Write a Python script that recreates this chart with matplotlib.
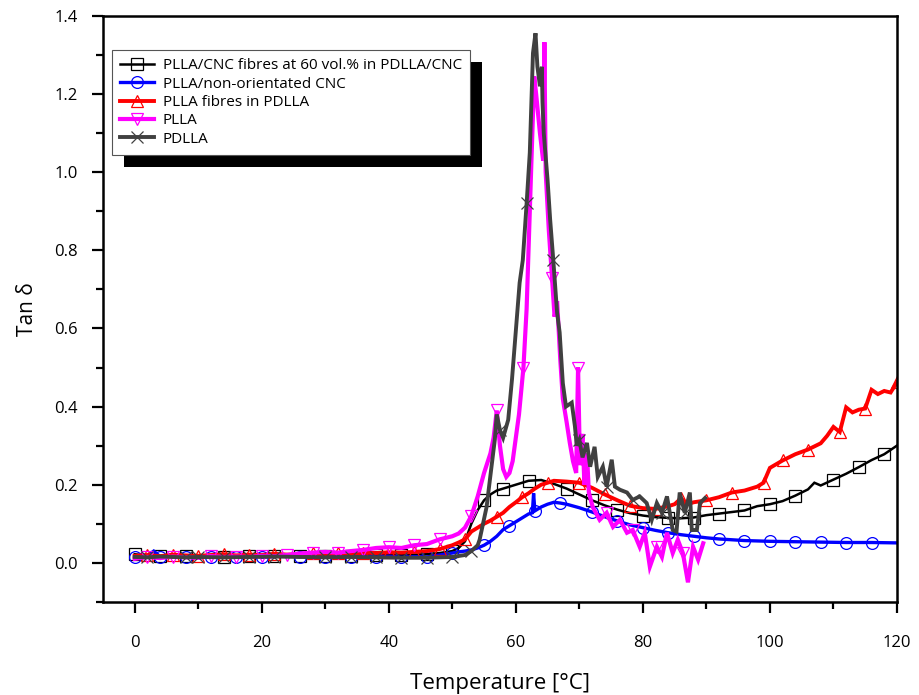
import numpy as np
import matplotlib
matplotlib.use("Agg")
import matplotlib.pyplot as plt
from matplotlib.patches import Rectangle
from matplotlib.ticker import MultipleLocator

plt.rcParams['font.family'] = ['Open Sans', 'DejaVu Sans']

labels = ["PLLA/CNC fibres at 60 vol.% in PDLLA/CNC",
          "PLLA/non-orientated CNC",
          "PLLA fibres in PDLLA",
          "PLLA",
          "PDLLA"]

# --- PLLA/CNC fibres at 60 vol.% in PDLLA/CNC (black, squares)
t_fib = [0, 2, 4, 6, 8, 10, 14, 18, 22, 26, 30, 34, 38, 42, 46, 48, 50, 51, 52, 53, 54, 55,
         56, 57, 58, 60, 62, 64, 66, 68, 70, 72, 74, 76, 78, 80, 82, 84, 86, 88, 90, 92, 94,
         96, 98, 100, 102, 104, 106, 107, 108, 110, 112, 114, 116, 118, 120]
v_fib = [0.022, 0.018, 0.017, 0.019, 0.018, 0.017, 0.016, 0.017, 0.018, 0.017, 0.018, 0.018,
         0.020, 0.020, 0.022, 0.025, 0.030, 0.038, 0.055, 0.100, 0.135, 0.160, 0.175, 0.185,
         0.190, 0.200, 0.210, 0.212, 0.202, 0.190, 0.175, 0.160, 0.147, 0.136, 0.127, 0.121,
         0.117, 0.115, 0.114, 0.116, 0.122, 0.126, 0.130, 0.134, 0.145, 0.150, 0.158, 0.172,
         0.188, 0.205, 0.198, 0.213, 0.228, 0.245, 0.263, 0.278, 0.300]

# --- PLLA/non-orientated CNC (blue, circles)
t_cnc = [0, 1, 2, 3, 4, 6, 8, 10, 12, 14, 16, 18, 20, 22, 24, 26, 28, 30, 32, 34, 36, 38, 40,
         42, 44, 46, 48, 50, 51, 52, 53, 54, 55, 56, 57, 58, 59, 60, 61, 62, 62.6, 62.8, 63,
         64, 65, 66, 67, 68, 70, 72, 74, 76, 78, 80, 82, 84, 86, 88, 90, 92, 94, 96, 98, 100,
         104, 108, 112, 116, 120]
v_cnc = [0.015, 0.020, 0.018, 0.030, 0.016, 0.014, 0.015, 0.013, 0.016, 0.018, 0.015, 0.020,
         0.014, 0.016, 0.018, 0.015, 0.020, 0.014, 0.022, 0.016, 0.018, 0.015, 0.017, 0.014,
         0.016, 0.015, 0.020, 0.025, 0.028, 0.030, 0.033, 0.038, 0.045, 0.055, 0.068, 0.085,
         0.095, 0.105, 0.115, 0.125, 0.128, 0.178, 0.133, 0.143, 0.150, 0.155, 0.153, 0.150,
         0.141, 0.130, 0.118, 0.107, 0.097, 0.090, 0.083, 0.077, 0.072, 0.068, 0.064, 0.061,
         0.059, 0.057, 0.056, 0.055, 0.054, 0.053, 0.052, 0.052, 0.051]

# --- PLLA fibres in PDLLA (red, up triangles)
t_pf = [0, 2, 4, 6, 8, 10, 12, 14, 16, 18, 20, 22, 24, 26, 28, 30, 32, 34, 36, 38, 40, 42, 44,
        46, 48, 50, 51, 52, 53, 54, 55, 56, 57, 58, 59, 60, 61, 62, 63, 64, 65, 66, 68, 70, 72,
        74, 76, 78, 80, 82, 84, 85, 86, 87, 88, 90, 92, 94, 96, 98, 99, 100, 102, 104, 106,
        108, 109, 110, 111, 112, 113, 114, 115, 116, 117, 118, 119, 120]
v_pf = [0.018, 0.020, 0.017, 0.021, 0.019, 0.018, 0.020, 0.022, 0.019, 0.021, 0.020, 0.023,
        0.021, 0.022, 0.024, 0.022, 0.025, 0.023, 0.026, 0.025, 0.027, 0.026, 0.028, 0.030,
        0.035, 0.045, 0.052, 0.060, 0.080, 0.090, 0.100, 0.108, 0.118, 0.128, 0.143, 0.155,
        0.168, 0.178, 0.190, 0.200, 0.205, 0.210, 0.208, 0.205, 0.192, 0.175, 0.160, 0.146,
        0.140, 0.138, 0.145, 0.150, 0.165, 0.150, 0.155, 0.160, 0.168, 0.180, 0.185, 0.195,
        0.205, 0.243, 0.262, 0.278, 0.290, 0.306, 0.325, 0.348, 0.335, 0.398, 0.385, 0.392,
        0.395, 0.443, 0.432, 0.440, 0.436, 0.462]

# --- PLLA (magenta, down triangles)
t_plla = [0, 2, 4, 6, 8, 10, 12, 14, 16, 18, 20, 22, 24, 26, 28, 30, 32, 34, 36, 38, 40, 42,
          44, 46, 48, 50, 51, 52, 53, 54, 55, 56, 56.5, 57, 57.5, 58, 58.5, 59, 59.5, 60.5,
          61.2, 61.7, 62.2, 62.6, 62.9, 63.2, 63.8, 64.3, 64.5, 64.7, 65.2, 65.7, 66.1, 66.5,
          67, 67.4, 68, 68.5, 69, 69.5, 69.8, 70.1, 70.5, 70.8, 71.2, 71.5, 72.1, 73.2, 74.3,
          75.3, 76.4, 77.5, 78.4, 79.5, 80.3, 81.1, 82.2, 83, 83.8, 84.7, 85.5, 86.3, 87.1,
          87.9, 88.7, 89.5]
v_plla = [0.010, 0.015, 0.012, 0.016, 0.014, 0.013, 0.017, 0.015, 0.016, 0.015, 0.018, 0.017,
          0.020, 0.024, 0.026, 0.028, 0.026, 0.030, 0.033, 0.038, 0.040, 0.038, 0.045, 0.048,
          0.060, 0.068, 0.075, 0.090, 0.120, 0.170, 0.230, 0.280, 0.320, 0.390, 0.300, 0.240,
          0.220, 0.230, 0.260, 0.380, 0.500, 0.650, 0.900, 1.100, 1.245, 1.200, 1.100, 1.030,
          1.333, 1.000, 0.850, 0.730, 0.630, 0.670, 0.520, 0.420, 0.360, 0.307, 0.260, 0.230,
          0.500, 0.250, 0.330, 0.200, 0.280, 0.180, 0.143, 0.110, 0.128, 0.092, 0.110, 0.077,
          0.084, 0.041, 0.077, -0.010, 0.041, 0.015, 0.077, 0.025, 0.059, 0.025, -0.050, 0.041,
          0.008, 0.050]

# --- PDLLA (dark grey, crosses)
t_pd = [0, 2, 4, 6, 8, 10, 14, 18, 22, 26, 30, 34, 38, 42, 46, 50, 52, 53, 54, 54.3, 55.4,
        55.9, 56.7, 57, 57.5, 58, 58.8, 59.4, 60.6, 61.1, 61.7, 62.2, 62.7, 63.1, 63.4, 63.8,
        64.1, 64.2, 64.4, 65, 65.4, 65.9, 66.5, 66.9, 67.4, 67.9, 68.8, 69.3, 69.6, 70, 70.5,
        71.2, 71.7, 72.4, 72.9, 73.7, 74.3, 75.1, 75.6, 76.4, 77.5, 78.4, 79.5, 80.6, 81.4,
        82.2, 83, 83.8, 84.7, 85.3, 85.8, 86.6, 87.4, 87.7, 88.5, 89, 89.8]
v_pd = [0.015, 0.014, 0.016, 0.015, 0.014, 0.015, 0.014, 0.015, 0.016, 0.015, 0.014, 0.015,
        0.014, 0.013, 0.013, 0.015, 0.020, 0.030, 0.045, 0.059, 0.143, 0.210, 0.316, 0.380,
        0.340, 0.320, 0.366, 0.470, 0.717, 0.775, 0.920, 1.050, 1.305, 1.356, 1.270, 1.220,
        1.270, 1.180, 1.100, 0.980, 0.880, 0.775, 0.640, 0.590, 0.460, 0.400, 0.410, 0.350,
        0.300, 0.315, 0.270, 0.307, 0.246, 0.297, 0.220, 0.246, 0.195, 0.264, 0.195, 0.187,
        0.180, 0.161, 0.170, 0.153, 0.110, 0.153, 0.128, 0.170, 0.084, 0.080, 0.180, 0.128,
        0.180, 0.084, 0.084, 0.153, 0.166]

x_ticks = [0, 20, 40, 60, 80, 100, 120]
y_ticks = [0.0, 0.2, 0.4, 0.6, 0.8, 1.0, 1.2, 1.4]

series = [
    (t_fib, v_fib, 'black', 's', 1.8, 0.0),
    (t_cnc, v_cnc, '#0000ff', 'o', 2.4, 0.0),
    (t_pf, v_pf, '#ff0000', '^', 2.8, 2.0),
    (t_plla, v_plla, '#ff00ff', 'v', 3.0, 2.6),
    (t_pd, v_pd, '#404040', 'x', 2.8, 3.0),
]

fig = plt.figure(figsize=(9.19, 6.95), dpi=100)
ax = fig.add_axes([0.112, 0.134, 0.864, 0.843])

for (t, v, c, m, lw, off), lab in zip(series, labels):
    t = np.asarray(t, float)
    v = np.asarray(v, float)
    targets = np.arange(off, t.max() + 0.1, 4.2)
    idx = sorted(set(int(np.argmin(np.abs(t - q))) for q in targets))
    ax.plot(t, v, color=c, lw=lw, label=lab, marker=m, markevery=idx,
            markersize=8.5, markerfacecolor='none', markeredgecolor=c,
            markeredgewidth=0.9, solid_joinstyle='miter')

ax.set_xlim(-5, 120)
ax.set_ylim(-0.1, 1.4)
ax.set_xticks(x_ticks)
ax.set_xticklabels([str(v) for v in x_ticks])
ax.set_yticks(y_ticks)
ax.set_yticklabels([f"{v:.1f}" for v in y_ticks])
ax.xaxis.set_minor_locator(MultipleLocator(10))
ax.yaxis.set_minor_locator(MultipleLocator(0.1))
ax.tick_params(which='both', direction='out', width=1.6, labelsize=12)
ax.tick_params(axis='x', pad=16)
ax.tick_params(axis='y', pad=10)
ax.tick_params(which='major', length=8)
ax.tick_params(which='minor', length=5)
for s in ax.spines.values():
    s.set_linewidth(1.8)

ax.set_xlabel("Temperature [°C]", fontsize=16, labelpad=16)
ax.set_ylabel("Tan δ", fontsize=15, labelpad=12)

leg = ax.legend(loc='upper left', bbox_to_anchor=(0.011, 0.942), fontsize=11,
                frameon=True, fancybox=False, edgecolor='#555555', framealpha=1,
                facecolor='white', numpoints=1,
                handlelength=2.2, labelspacing=0.22, borderpad=0.55, borderaxespad=0,
                handletextpad=0.6)
leg.get_frame().set_linewidth(0.8)
leg.set_zorder(6)

fig.canvas.draw()
bb = leg.get_window_extent()
W, H = fig.bbox.width, fig.bbox.height
sh = Rectangle(((bb.x0 + 12) / W, (bb.y0 - 12) / H), bb.width / W, bb.height / H,
               transform=fig.transFigure, facecolor='black', edgecolor='none', zorder=5.5)
ax.add_patch(sh)
sh.set_clip_on(False)

fig.savefig("out.png", dpi=100)
